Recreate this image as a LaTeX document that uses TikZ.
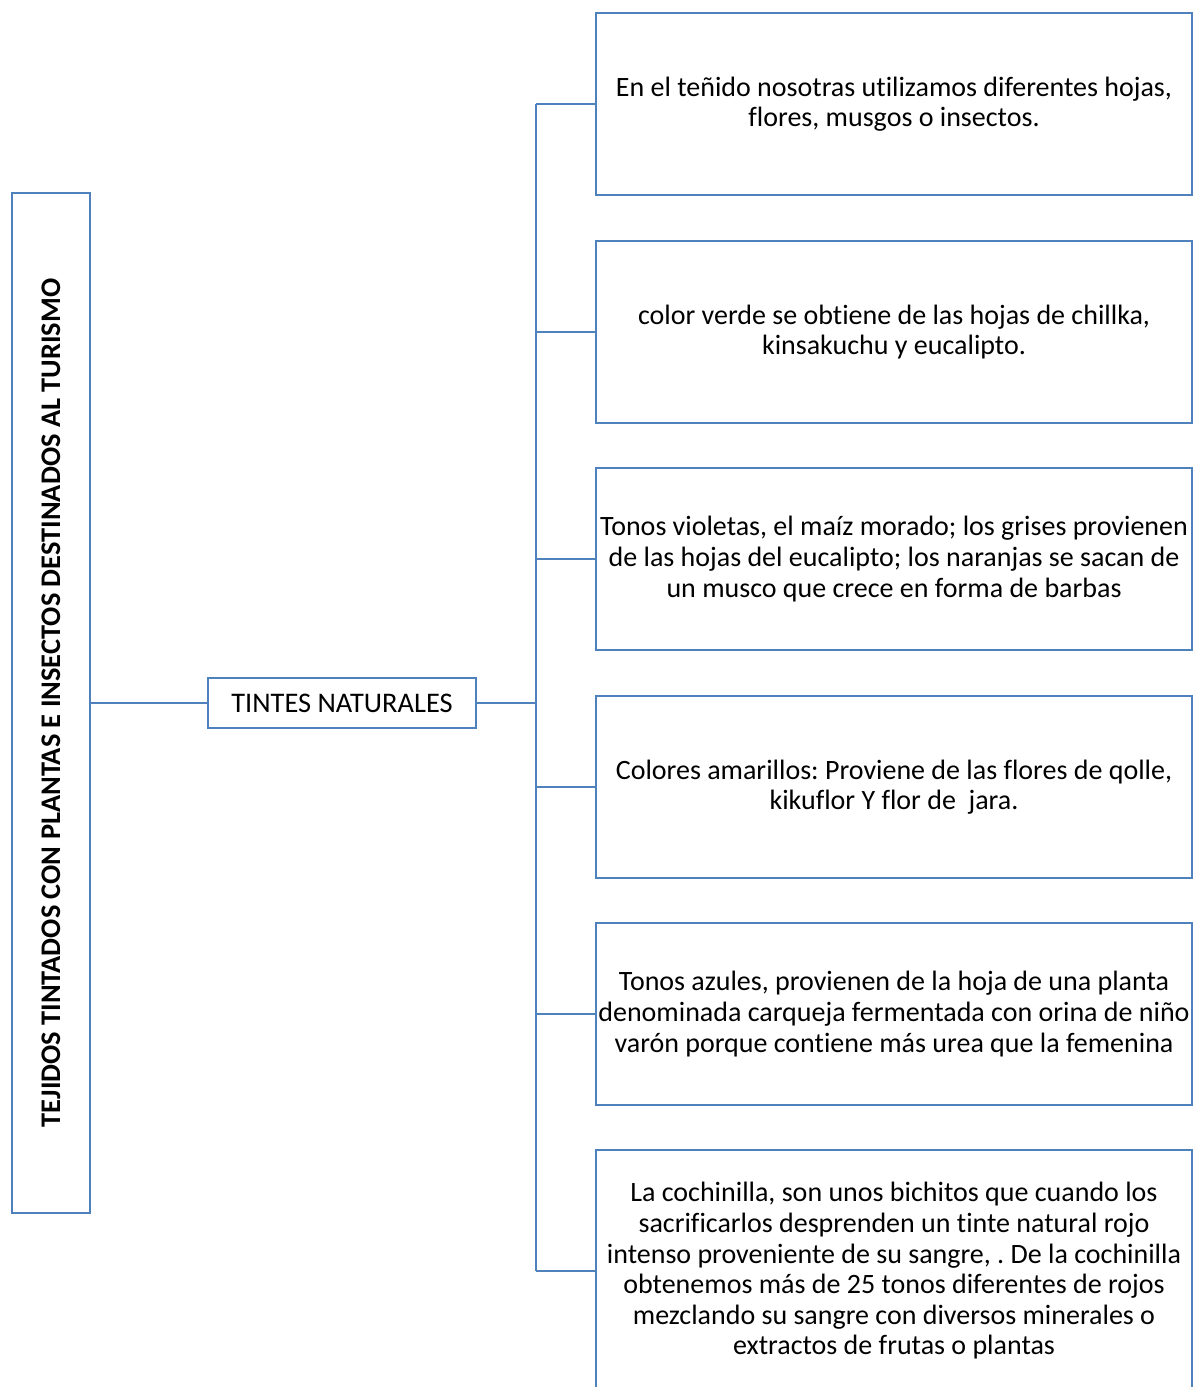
\documentclass[tikz,border=0pt]{standalone}
\usepackage{fontspec}
\setmainfont{Carlito}[Ligatures=NoCommon]
\usepackage{tikz}
\definecolor{azulcaja}{HTML}{4F81BD}
\frenchspacing

\begin{document}
\begin{tikzpicture}[x=0.5pt,y=-0.5pt,
		caja/.style={draw=azulcaja,line width=1.4pt,rectangle,inner sep=0pt,align=center,
			minimum width=298pt,minimum height=91pt,font=\fontsize{14}{15.3}\selectfont},
		linea/.style={draw=azulcaja,line width=1.4pt}]
			\useasboundingbox (0,0) rectangle (1203,1387);
			\clip (0,0) rectangle (1203,1387);
			\node[draw=azulcaja,line width=1.4pt,minimum width=39pt,minimum height=510pt,inner sep=0pt] (titulo) at (51,703) {};
			\node[rotate=90,font=\fontsize{14.2}{15}\bfseries] at (titulo.center) {TEJIDOS TINTADOS CON PLANTAS E INSECTOS DESTINADOS AL TURISMO};
			\node[draw=azulcaja,line width=1.4pt,minimum width=134pt,minimum height=25pt,inner sep=0pt,font=\fontsize{14.2}{15}\selectfont] (tintes) at (342,703) {TINTES NATURALES};
			\coordinate (nudo) at (536,703);
			\node[caja] (b1) at (894,104) {En el teñido nosotras utilizamos diferentes hojas,\\flores, musgos o insectos.};
			\node[caja] (b2) at (894,332) {color verde se obtiene de las hojas de chillka,\\kinsakuchu y eucalipto.};
			\node[caja] (b3) at (894,559) {Tonos violetas, el maíz morado; los grises provienen\\de las hojas del eucalipto; los naranjas se sacan de\\un musco que crece en forma de barbas};
			\node[caja] (b4) at (894,787) {Colores amarillos: Proviene de las flores de qolle,\\kikuflor Y flor de\ \ jara.};
			\node[caja] (b5) at (894,1014) {Tonos azules, provienen de la hoja de una planta\\denominada carqueja fermentada con orina de niño\\varón porque contiene más urea que la femenina};
			\node[caja,minimum height=121pt] (b6) at (894,1271) {La cochinilla, son unos bichitos que cuando los\\sacrificarlos desprenden un tinte natural rojo\\intenso proveniente de su sangre, . De la cochinilla\\obtenemos más de 25 tonos diferentes de rojos\\mezclando su sangre con diversos minerales o\\extractos de frutas o plantas};
			\draw[linea] (titulo.east) -- (tintes.west);
			\draw[linea] (tintes.east) -- (nudo);
			\draw[linea] (nudo |- b1.west) -- (nudo |- b6.west);
			\foreach \b in {b1,b2,b3,b4,b5,b6}
				\draw[linea] (nudo |- \b.west) -- (\b.west);
		\end{tikzpicture}
\end{document}
